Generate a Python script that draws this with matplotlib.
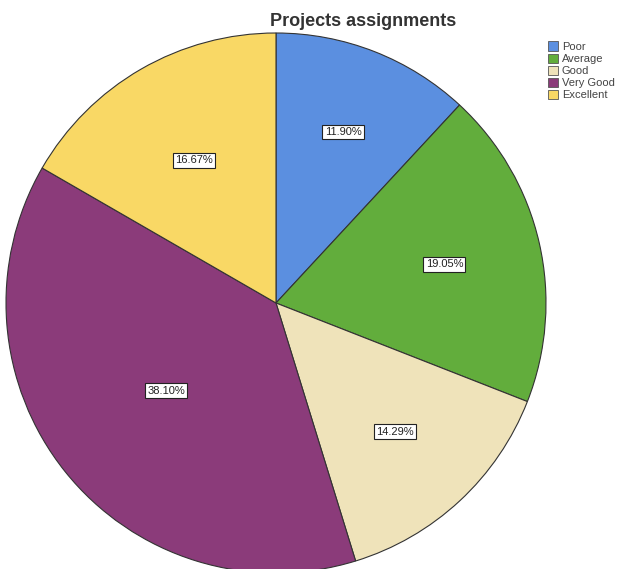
import matplotlib
matplotlib.use("Agg")
import numpy as np
import matplotlib.pyplot as plt
from matplotlib.patches import Patch

plt.rcParams["font.family"] = ["Liberation Sans", "DejaVu Sans"]

categories = ["Poor", "Average", "Good", "Very Good", "Excellent"]
values = [11.90, 19.05, 14.29, 38.10, 16.67]
colors = ["#5b8fe0", "#62ad3c", "#efe3ba", "#8b3b7a", "#f9d865"]
label_dist = [0.68, 0.64, 0.65, 0.52, 0.61]
title = "Projects assignments"

fig = plt.figure(figsize=(6.26, 5.69), dpi=100)
fig.patch.set_facecolor("white")
W, H = 626, 569
cx, cy, r = 276, 303, 270
ax = fig.add_axes([(cx - r) / W, (H - cy - r) / H, 2 * r / W, 2 * r / H])

wedges, texts, autotexts = ax.pie(
    values, colors=colors, startangle=90, counterclock=False, radius=1,
    autopct=lambda p: f"{p:.2f}%", pctdistance=0.64,
    wedgeprops=dict(edgecolor="#333333", linewidth=0.8),
    textprops=dict(fontsize=8, color="#222222"),
)
ax.set_xlim(-1, 1)
ax.set_ylim(-1, 1)
ax.set_aspect("equal")
ax.axis("off")
for w, t, d in zip(wedges, autotexts, label_dist):
    ang = np.deg2rad((w.theta1 + w.theta2) / 2)
    t.set_position((d * np.cos(ang), d * np.sin(ang)))
    t.set_bbox(dict(boxstyle="square,pad=0.2", facecolor="white", edgecolor="#222222", linewidth=0.8))

fig.text(363 / W, 1 - 22 / H, title, ha="center", va="center", fontsize=13, fontweight="bold", color="#333333")

handles = [Patch(facecolor=c, edgecolor="#555555", linewidth=0.6) for c in colors]
leg = fig.legend(handles, categories, loc="upper left", bbox_to_anchor=(544 / W, 1 - 37 / H),
                 frameon=False, fontsize=8, handlelength=0.9, handleheight=0.9,
                 handletextpad=0.3, labelspacing=0.15, borderaxespad=0)
for t in leg.get_texts():
    t.set_color("#444444")

fig.savefig("out.png", dpi=100)
